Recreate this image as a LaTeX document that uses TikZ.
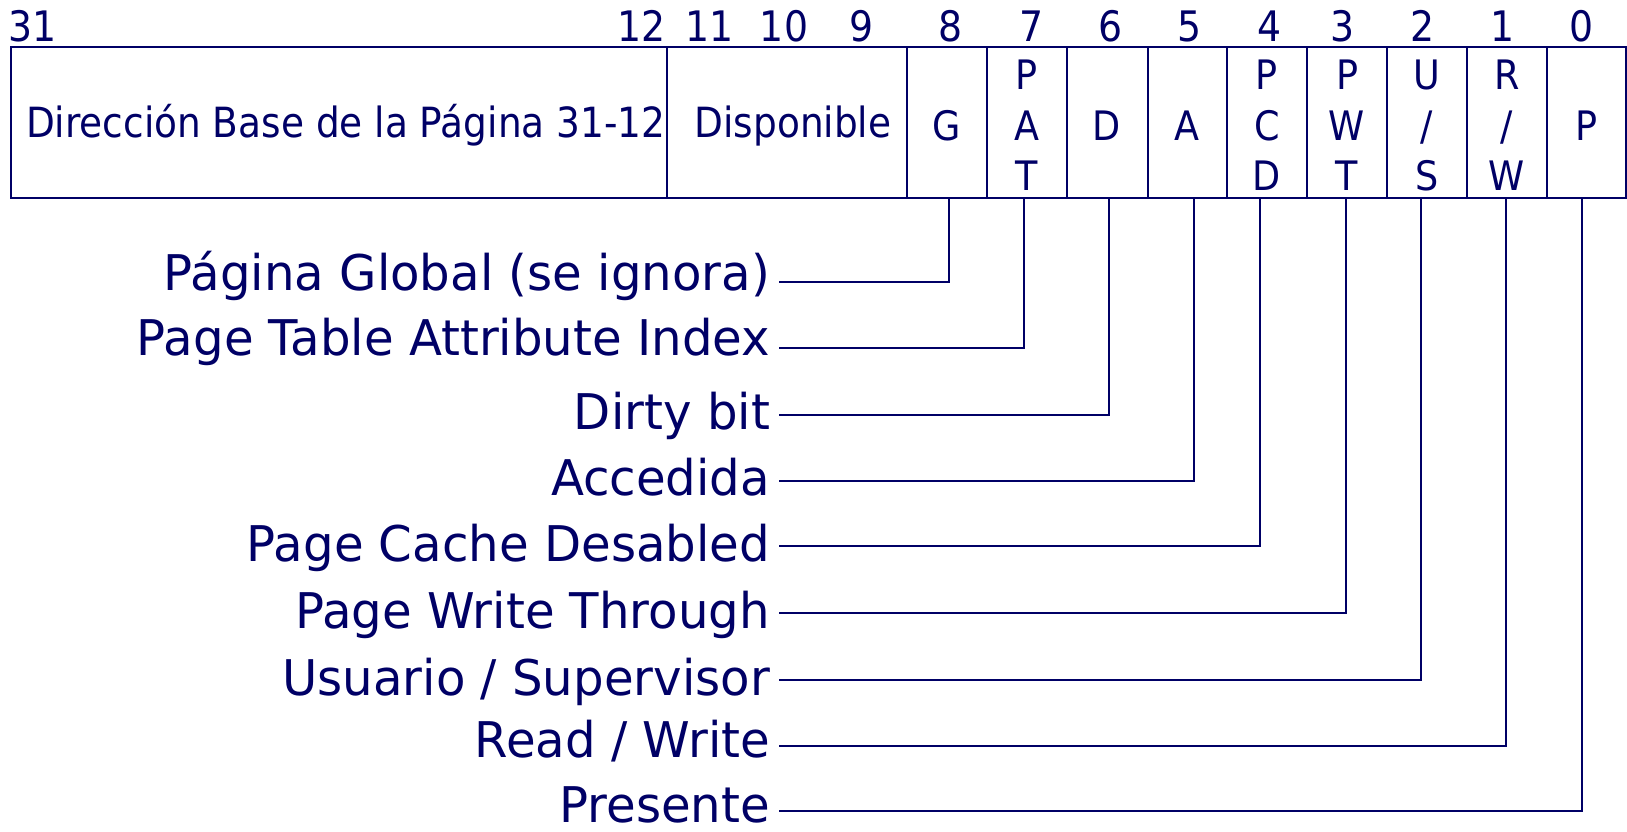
\documentclass[tikz,border=0pt]{standalone}
\usepackage{fontspec}
\newfontfamily\lblfont[FakeStretch=0.98]{DejaVu Sans}
\newfontfamily\topfont[FakeStretch=0.9]{DejaVu Sans}
\definecolor{ink}{RGB}{0,0,102}
\begin{document}
\begin{tikzpicture}[x=0.5pt,y=-0.5pt,
  every node/.style={inner sep=0pt, outer sep=0pt, text=ink},
  lbl/.style={font=\lblfont\fontsize{24.6}{28}\selectfont, anchor=base east},
  bitnum/.style={font=\topfont\fontsize{21}{24}\selectfont, anchor=base},
  celltxt/.style={font=\topfont\fontsize{20.3}{24}\selectfont, anchor=base},
  boxtxt/.style={font=\topfont\fontsize{20.8}{24}\selectfont, anchor=base},
  wire/.style={draw=ink, line width=1pt},
  frame/.style={draw=ink, line width=1pt}]
\useasboundingbox[fill=white] (0,0) rectangle (1627,831);

% register frame and field dividers
\draw[frame] (10.5,47.3) rectangle (1625.5,198);
\foreach \x in {667,907,987,1067,1147.5,1227,1307,1387,1467,1547}
  \draw[frame] (\x,47.3) -- (\x,198);

% bit numbers
\foreach \n/\x in {31/33,12/642,11/710,10/784,9/862,8/951,7/1032,6/1111,5/1190,4/1270,3/1343,2/1423,1/1503,0/1582}
  \node[bitnum] (b\n) at (\x,41.7) {\n};

% field texts
\node[boxtxt, anchor=base west] (base) at (26,137.5) {Dirección Base de la Página 31-12};
\node[boxtxt] (disp) at (793,137) {Disponible};

\node[celltxt] (cG) at (947,140) {G};
\node[celltxt] (cPAT1) at (1027,89.5) {P};
\node[celltxt] (cPAT2) at (1027,140) {A};
\node[celltxt] (cPAT3) at (1027,190.5) {T};
\node[celltxt] (cD) at (1107,140) {D};
\node[celltxt] (cA) at (1187,140) {A};
\node[celltxt] (cPCD1) at (1267,89.5) {P};
\node[celltxt] (cPCD2) at (1267,140) {C};
\node[celltxt] (cPCD3) at (1267,190.5) {D};
\node[celltxt] (cPWT1) at (1347,89.5) {P};
\node[celltxt] (cPWT2) at (1347,140) {W};
\node[celltxt] (cPWT3) at (1347,190.5) {T};
\node[celltxt] (cUS1) at (1427,89.5) {U};
\node[celltxt] (cUS2) at (1427,140) {/};
\node[celltxt] (cUS3) at (1427,190.5) {S};
\node[celltxt] (cRW1) at (1507,89.5) {R};
\node[celltxt] (cRW2) at (1507,140) {/};
\node[celltxt] (cRW3) at (1507,190.5) {W};
\node[celltxt] (cP) at (1586.5,140) {P};

% descriptions and connectors
\foreach \n/\x/\y/\b/\t in {
  G/949/282.3/290/{Página Global (se ignora)},
  PAT/1024.3/348.4/355/{Page Table Attribute Index},
  D/1109.3/414.5/429/{Dirty bit},
  A/1194.3/480.7/495/{Accedida},
  PCD/1260.3/546.3/561.5/{Page Cache Desabled},
  PWT/1345.7/613.2/628.5/{Page Write Through},
  US/1421.3/679.5/695/{Usuario / Supervisor},
  RW/1506.3/745.7/757.5/{Read / Write},
  P/1581.7/810.9/822/{Presente}} {
  \node[lbl] (l\n) at (770,\b) {\t};
  \coordinate (t\n) at (\x,198);
  \coordinate (e\n) at (779,\y);
  \draw[wire] (t\n) |- (e\n);
}
\end{tikzpicture}
\end{document}
